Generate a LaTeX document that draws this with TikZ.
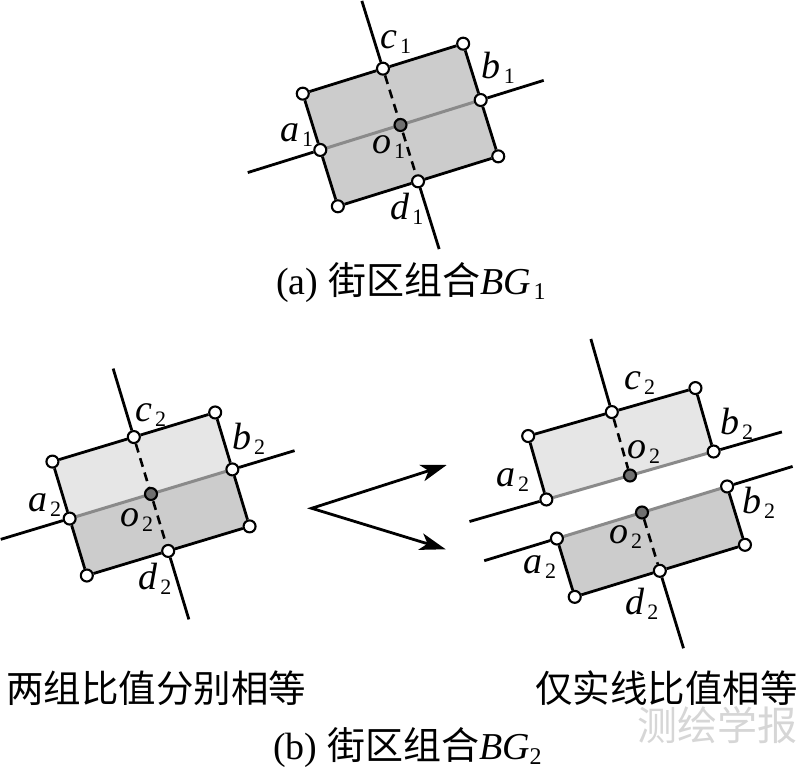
\documentclass[tikz,border=0pt]{standalone}
\usepackage{fontspec}
\setmainfont{Liberation Serif}
\newfontfamily\cjk{Noto Sans CJK SC}
\usepackage{tikz}
\usetikzlibrary{arrows.meta}
\pgfdeclarelayer{bg}
\pgfsetlayers{bg,main}
\definecolor{blockdark}{HTML}{CCCCCC}
\definecolor{blocklight}{HTML}{E6E6E6}
\definecolor{axisgray}{HTML}{8A8A8A}
\definecolor{ctrgray}{HTML}{707070}
\definecolor{wmgray}{HTML}{D6D6D6}
\newcommand{\lbl}[2]{\textit{#1}\kern3pt\raisebox{-5pt}{\fontsize{22}{22}\selectfont #2}}
\tikzset{
  pt/.style={circle,draw=black,fill=white,line width=2.1pt,inner sep=0pt,minimum size=12pt},
  ctr/.style={pt,fill=ctrgray},
  road/.style={line width=2.8pt,black},
  axis/.style={line width=3pt,axisgray},
  cut/.style={line width=2.6pt,dash pattern=on 9pt off 6pt},
  lab/.style={font=\fontsize{38}{38}\selectfont,inner sep=0pt,anchor=base west},
  captxt/.style={font=\fontsize{38}{38}\selectfont,inner sep=0pt},
  note/.style={font=\fontsize{37.5}{37.5}\selectfont\cjk,inner sep=0pt},
  ar/.style={{Stealth[length=26pt,width=17pt,inset=7pt]}-{Stealth[length=26pt,width=17pt,inset=7pt]},line width=2.8pt}
}

\begin{document}
\begin{tikzpicture}[x=1pt,y=1pt]
\useasboundingbox (0,0) rectangle (800,770);

% (a) block group BG1
\begin{scope}[shift={(400.5,645)},rotate=17.3]
  \node[pt] (tl1) at (-84,59) {};
  \node[pt] (tr1) at (84,59) {};
  \node[pt] (br1) at (84,-59) {};
  \node[pt] (bl1) at (-84,-59) {};
  \node[pt] (c1) at (0,59) {};
  \node[pt] (d1) at (0,-59) {};
  \node[pt] (a1) at (-84,0) {};
  \node[pt] (b1) at (84,0) {};
  \node[ctr] (o1) at (0,0) {};
  \coordinate (a1e) at (-160,0); \coordinate (b1e) at (150,0);
  \coordinate (c1e) at (0,130); \coordinate (d1e) at (0,-130);
  \begin{pgfonlayer}{bg}
    \fill[blockdark] (tl1.center) -- (tr1.center) -- (br1.center) -- (bl1.center) -- cycle;
    \draw[road] (a1e) -- (a1) (b1) -- (b1e) (c1e) -- (c1) (d1) -- (d1e);
    \draw[road] (a1) -- (tl1) -- (c1) -- (tr1) -- (b1) -- (br1) -- (d1) -- (bl1) -- (a1);
    \draw[axis] (a1) -- (b1);
    \draw[cut] (c1) -- (d1);
  \end{pgfonlayer}
\end{scope}
\node[lab] at (380,721.7) {\lbl{c}{1}};
\node[lab] at (481.7,691.7) {\lbl{b}{1}};
\node[lab] at (280,628.3) {\lbl{a}{1}};
\node[lab] at (372,616.7) {\lbl{o}{1}};
\node[lab] at (390,550) {\lbl{d}{1}};
\node[captxt] (capa) at (411,487) {(a) {\cjk 街区组合}\textit{BG}\kern3pt\raisebox{-5pt}{\fontsize{24}{24}\selectfont 1}};

% (b) left: both ratios equal
\begin{scope}[shift={(151,276)},rotate=16.8]
  \node[pt] (tl2) at (-85,59.5) {};
  \node[pt] (tr2) at (85,59.5) {};
  \node[pt] (br2) at (85,-59.5) {};
  \node[pt] (bl2) at (-85,-59.5) {};
  \node[pt] (c2) at (0,59.5) {};
  \node[pt] (d2) at (0,-59.5) {};
  \node[pt] (a2) at (-85,0) {};
  \node[pt] (b2) at (85,0) {};
  \node[ctr] (o2) at (0,0) {};
  \coordinate (a2e) at (-157,0); \coordinate (b2e) at (150,0);
  \coordinate (c2e) at (0,131); \coordinate (d2e) at (0,-131);
  \begin{pgfonlayer}{bg}
    \fill[blocklight] (a2.center) -- (tl2.center) -- (tr2.center) -- (b2.center) -- cycle;
    \fill[blockdark] (a2.center) -- (bl2.center) -- (br2.center) -- (b2.center) -- cycle;
    \draw[road] (a2e) -- (a2) (b2) -- (b2e) (c2e) -- (c2) (d2) -- (d2e);
    \draw[road] (a2) -- (tl2) -- (c2) -- (tr2) -- (b2) -- (br2) -- (d2) -- (bl2) -- (a2);
    \draw[axis] (a2) -- (b2);
    \draw[cut] (c2) -- (d2);
  \end{pgfonlayer}
\end{scope}
\node[lab] at (135,348.3) {\lbl{c}{2}};
\node[lab] at (232,320) {\lbl{b}{2}};
\node[lab] at (28,258.3) {\lbl{a}{2}};
\node[lab] at (120,243.3) {\lbl{o}{2}};
\node[lab] at (138,180) {\lbl{d}{2}};

% split arrows
\coordinate (apex) at (311.7,261.7);
\coordinate (up) at (446.7,305);
\coordinate (dn) at (445.7,220.7);
\draw[ar] (up) -- (apex) -- (dn);

% (b) right: upper half
\begin{scope}[shift={(630,294.5)},rotate=16]
  \node[pt] (tl2t) at (-87,66) {};
  \node[pt] (tr2t) at (87,66) {};
  \node[pt] (c2t) at (0,66) {};
  \node[pt] (a2t) at (-87,0) {};
  \node[pt] (b2t) at (87,0) {};
  \node[ctr] (o2t) at (0,0) {};
  \coordinate (a2te) at (-167,0); \coordinate (b2te) at (158,0);
  \coordinate (c2te) at (0,142);
  \begin{pgfonlayer}{bg}
    \fill[blocklight] (a2t.center) -- (tl2t.center) -- (tr2t.center) -- (b2t.center) -- cycle;
    \draw[road] (a2te) -- (a2t) (b2t) -- (b2te) (c2te) -- (c2t);
    \draw[road] (a2t) -- (tl2t) -- (c2t) -- (tr2t) -- (b2t);
    \draw[axis] (a2t) -- (b2t);
    \draw[cut] (c2t) -- (o2t);
  \end{pgfonlayer}
\end{scope}
\node[lab] at (624,380) {\lbl{c}{2}};
\node[lab] at (720,335) {\lbl{b}{2}};
\node[lab] at (627,311.7) {\lbl{o}{2}};
\node[lab] at (496,283.3) {\lbl{a}{2}};

% (b) right: lower half
\begin{scope}[shift={(642,257.5)},rotate=17]
  \node[pt] (bl2b) at (-89,-61) {};
  \node[pt] (br2b) at (89,-61) {};
  \node[pt] (d2b) at (0,-61) {};
  \node[pt] (a2b) at (-89,0) {};
  \node[pt] (b2b) at (89,0) {};
  \node[ctr] (o2b) at (0,0) {};
  \coordinate (a2be) at (-165,0); \coordinate (b2be) at (157.5,0);
  \coordinate (d2be) at (0,-142);
  \begin{pgfonlayer}{bg}
    \fill[blockdark] (a2b.center) -- (bl2b.center) -- (br2b.center) -- (b2b.center) -- cycle;
    \draw[road] (a2be) -- (a2b) (b2b) -- (b2be) (d2b) -- (d2be);
    \draw[road] (a2b) -- (bl2b) -- (d2b) -- (br2b) -- (b2b);
    \draw[axis] (a2b) -- (b2b);
    \draw[cut] (o2b) -- (d2b);
  \end{pgfonlayer}
\end{scope}
\node[lab] at (742,256.7) {\lbl{b}{2}};
\node[lab] at (609,226.7) {\lbl{o}{2}};
\node[lab] at (523,196.7) {\lbl{a}{2}};
\node[lab] at (625,155) {\lbl{d}{2}};

\node[note] (left) at (156,82) {两组比值分别相等};
\node[note] (right) at (666.7,82) {仅实线比值相等};
\node[note,text=wmgray,font=\fontsize{40}{40}\selectfont\cjk] (wm) at (717.5,45) {测绘学报};
\node[captxt] (capb) at (407.5,22) {(b) {\cjk 街区组合}\textit{BG}\raisebox{-5pt}{\fontsize{24}{24}\selectfont 2}};
\end{tikzpicture}
\end{document}
